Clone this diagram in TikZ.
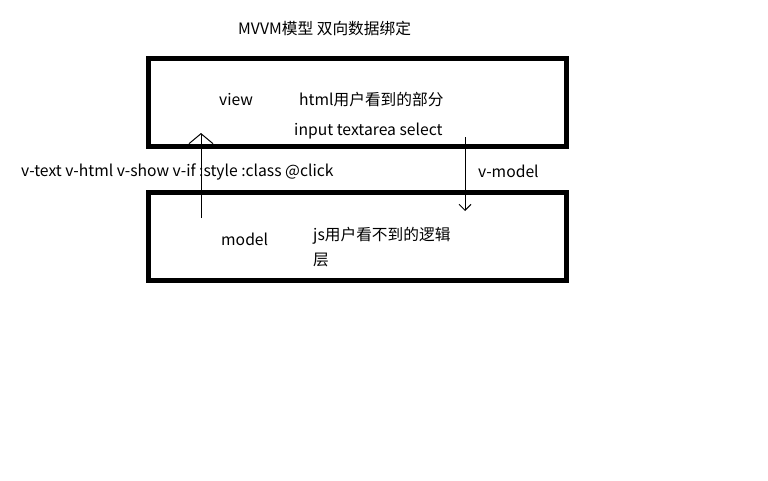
\documentclass[tikz,border=0pt]{standalone}
\usepackage{fontspec}
\setmainfont{Noto Sans CJK SC}
\usepackage{tikz}
\usetikzlibrary{arrows.meta, positioning}
\tikzset{
    panel/.style={rectangle, draw, line width=5pt, minimum width=418pt, minimum height=88pt, inner sep=0pt},
    label/.style={inner sep=0pt, anchor=base west, font=\fontsize{15.7}{19}\selectfont},
    link/.style={line width=1pt}
}

\begin{document}
\begin{tikzpicture}[x=1pt, y=-1pt]
        \useasboundingbox (0,0) rectangle (768,480);

        \node (title) [label] at (238,34) {MVVM模型 双向数据绑定};

        % Boxes
        \node (view_box) [panel] at (357.5,102.5) {};
        \node (model_box) [panel] at (357.5,236.5) {};

        \node (view_label) [label] at (219,105) {view};
        \node (view_text) [label] at (299,105) {html用户看到的部分};
        \node (view_tags) [label] at (294,135) {input textarea select};

        \node (model_label) [label] at (221,245) {model};
        \node (model_text) [label] at (313,240) {js用户看不到的逻辑};
        \node (model_text2) [label] at (313,265) {层};

        \node (bind_label) [label] at (21,176) {v-text v-html v-show v-if :style :class @click};
        \node (vmodel_label) [label] at (478,177) {v-model};

        % Binding arrows
        \coordinate (up_from) at (201,218);
        \coordinate (up_to) at (201,133);
        \coordinate (down_from) at (465,137);
        \coordinate (down_to) at (465,211);

        \draw[link, -{Straight Barb[length=10pt, width=24pt]}] (up_from) -- (up_to);
        \draw[link, -{Straight Barb[length=6pt, width=12pt]}] (down_from) -- (down_to);

    \end{tikzpicture}
\end{document}
